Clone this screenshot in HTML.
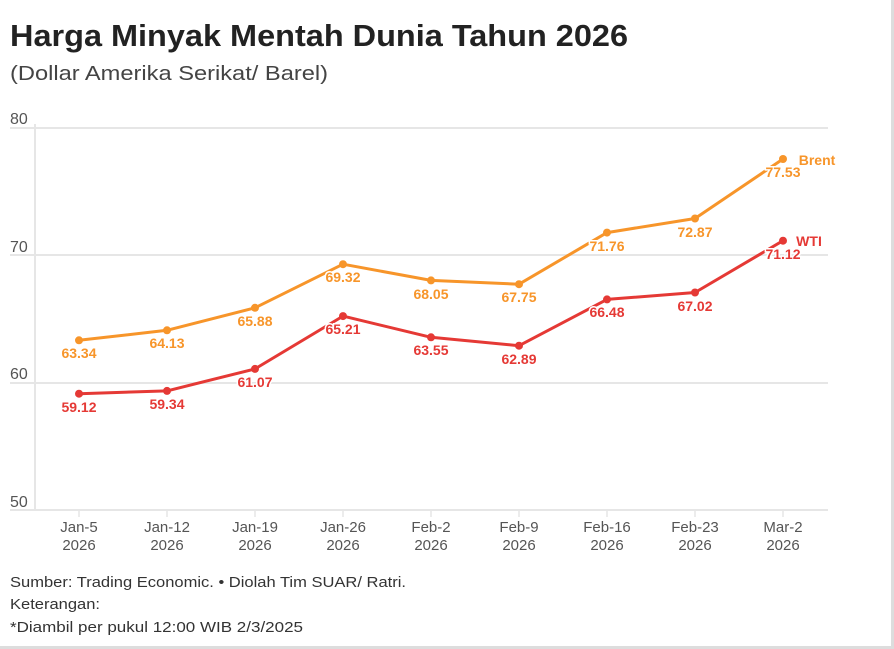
<!DOCTYPE html>
<html><head><meta charset="utf-8"><style>
body{margin:0;background:#fff}
.w{position:relative;width:894px;height:649px;overflow:hidden;font-family:"Liberation Sans",sans-serif}
</style></head><body><div class="w">
<svg width="894" height="649" xmlns="http://www.w3.org/2000/svg" font-family="Liberation Sans, sans-serif">
<rect x="891" y="0" width="3" height="649" fill="#ddd"/>
<rect x="0" y="646" width="894" height="3" fill="#ddd"/>
<text x="10" y="46" font-size="31" font-weight="bold" fill="#222" textLength="618" lengthAdjust="spacingAndGlyphs">Harga Minyak Mentah Dunia Tahun 2026</text>
<text x="10" y="80" font-size="20" fill="#444" textLength="318" lengthAdjust="spacingAndGlyphs">(Dollar Amerika Serikat/ Barel)</text>
<g stroke="#e6e6e6" stroke-width="2">
<line x1="10" y1="128" x2="828" y2="128"/><line x1="10" y1="255" x2="828" y2="255"/>
<line x1="10" y1="383" x2="828" y2="383"/><line x1="10" y1="510" x2="828" y2="510"/>
<line x1="35" y1="124" x2="35" y2="510"/>
</g>
<g stroke="#e6e6e6" stroke-width="1.5">
<line x1="79" y1="510" x2="79" y2="517"/><line x1="167" y1="510" x2="167" y2="517"/><line x1="255" y1="510" x2="255" y2="517"/><line x1="343" y1="510" x2="343" y2="517"/><line x1="431" y1="510" x2="431" y2="517"/><line x1="519" y1="510" x2="519" y2="517"/><line x1="607" y1="510" x2="607" y2="517"/><line x1="695" y1="510" x2="695" y2="517"/><line x1="783" y1="510" x2="783" y2="517"/>
</g>
<g font-size="16" fill="#555">
<text x="10" y="124">80</text><text x="10" y="252">70</text><text x="10" y="379">60</text><text x="10" y="507">50</text>
</g>
<g font-size="15" fill="#555" text-anchor="middle">
<text x="79" y="532">Jan-5</text><text x="79" y="550">2026</text>
<text x="167" y="532">Jan-12</text><text x="167" y="550">2026</text>
<text x="255" y="532">Jan-19</text><text x="255" y="550">2026</text>
<text x="343" y="532">Jan-26</text><text x="343" y="550">2026</text>
<text x="431" y="532">Feb-2</text><text x="431" y="550">2026</text>
<text x="519" y="532">Feb-9</text><text x="519" y="550">2026</text>
<text x="607" y="532">Feb-16</text><text x="607" y="550">2026</text>
<text x="695" y="532">Feb-23</text><text x="695" y="550">2026</text>
<text x="783" y="532">Mar-2</text><text x="783" y="550">2026</text>
</g>
<polyline fill="none" stroke="#f7952a" stroke-width="3" stroke-linejoin="round" points="79,340.3 167,330.3 255,307.8 343,264.2 431,280.4 519,284.2 607,232.6 695,218.5 783,159.0"/>
<polyline fill="none" stroke="#e53935" stroke-width="3" stroke-linejoin="round" points="79,393.7 167,390.9 255,368.9 343,316.1 431,337.3 519,345.7 607,299.4 695,292.5 783,240.7"/>
<g fill="#f7952a">
<circle cx="79" cy="340.3" r="4"/><circle cx="167" cy="330.3" r="4"/><circle cx="255" cy="307.8" r="4"/><circle cx="343" cy="264.2" r="4"/><circle cx="431" cy="280.4" r="4"/><circle cx="519" cy="284.2" r="4"/><circle cx="607" cy="232.6" r="4"/><circle cx="695" cy="218.5" r="4"/><circle cx="783" cy="159" r="4"/>
</g>
<g fill="#e53935">
<circle cx="79" cy="393.7" r="4"/><circle cx="167" cy="390.9" r="4"/><circle cx="255" cy="368.9" r="4"/><circle cx="343" cy="316.1" r="4"/><circle cx="431" cy="337.3" r="4"/><circle cx="519" cy="345.7" r="4"/><circle cx="607" cy="299.4" r="4"/><circle cx="695" cy="292.5" r="4"/><circle cx="783" cy="240.7" r="4"/>
</g>
<g font-size="14" font-weight="bold" fill="#f7952a" text-anchor="middle" stroke="#fff" stroke-width="3" paint-order="stroke">
<text x="79" y="358">63.34</text><text x="167" y="348">64.13</text><text x="255" y="326">65.88</text><text x="343" y="282">69.32</text><text x="431" y="299">68.05</text><text x="519" y="302">67.75</text><text x="607" y="251">71.76</text><text x="695" y="237">72.87</text><text x="783" y="177">77.53</text>
<text x="817" y="165">Brent</text>
</g>
<g font-size="14" font-weight="bold" fill="#e53935" text-anchor="middle" stroke="#fff" stroke-width="3" paint-order="stroke">
<text x="79" y="412">59.12</text><text x="167" y="409">59.34</text><text x="255" y="387">61.07</text><text x="343" y="334">65.21</text><text x="431" y="355">63.55</text><text x="519" y="364">62.89</text><text x="607" y="317">66.48</text><text x="695" y="311">67.02</text><text x="783" y="259">71.12</text>
<text x="809" y="246">WTI</text>
</g>
<g font-size="15" fill="#333">
<text x="10" y="587" textLength="396" lengthAdjust="spacingAndGlyphs">Sumber: Trading Economic. • Diolah Tim SUAR/ Ratri.</text>
<text x="10" y="609" textLength="90" lengthAdjust="spacingAndGlyphs">Keterangan:</text>
<text x="10" y="632" textLength="293" lengthAdjust="spacingAndGlyphs">*Diambil per pukul 12:00 WIB 2/3/2025</text>
</g>
</svg></div></body></html>
